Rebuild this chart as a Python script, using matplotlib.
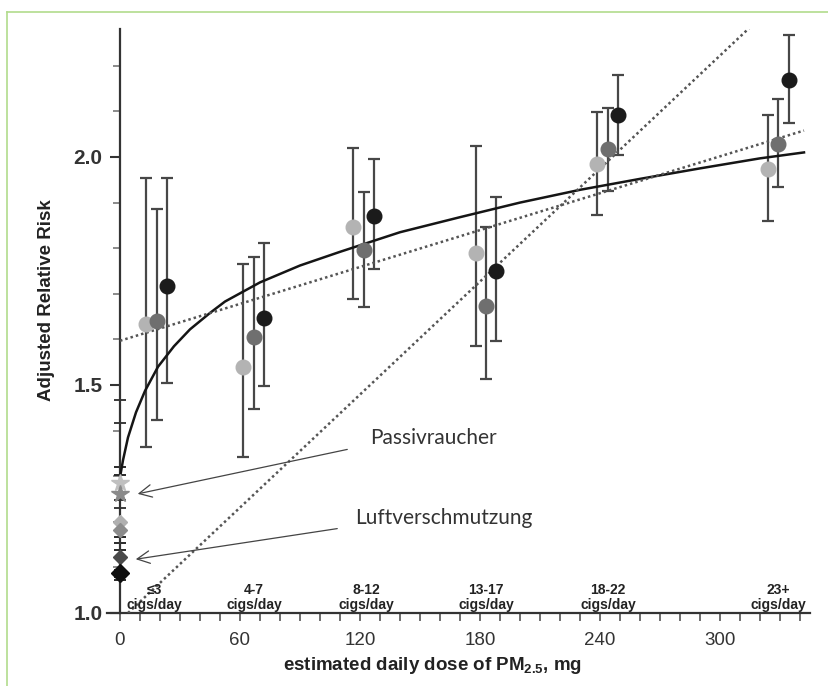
import matplotlib
matplotlib.use('Agg')
import matplotlib.pyplot as plt
from matplotlib.lines import Line2D
import numpy as np

plt.rcParams['font.family'] = ['Liberation Sans', 'DejaVu Sans']
plt.rcParams['mathtext.fontset'] = 'custom'
plt.rcParams['mathtext.rm'] = 'Liberation Sans'
plt.rcParams['mathtext.bf'] = 'Liberation Sans:bold'

# ---------------- data ----------------
categories = ['≤3\ncigs/day', '4-7\ncigs/day', '8-12\ncigs/day',
              '13-17\ncigs/day', '18-22\ncigs/day', '23+\ncigs/day']
cat_x = [17, 67, 123, 183, 244, 329]

light_x = [12.9, 61.7, 116.7, 177.8, 238.7, 323.8]
light_y = [1.634, 1.539, 1.847, 1.790, 1.984, 1.973]
light_lo = [1.363, 1.341, 1.688, 1.586, 1.872, 1.860]
light_hi = [1.953, 1.765, 2.019, 2.024, 2.098, 2.092]

mid_x = [18.3, 67.0, 122.0, 182.8, 243.8, 329.2]
mid_y = [1.641, 1.606, 1.795, 1.673, 2.017, 2.028]
mid_lo = [1.423, 1.447, 1.670, 1.514, 1.926, 1.934]
mid_hi = [1.887, 1.781, 1.924, 1.846, 2.108, 2.127]

dark_x = [23.7, 72.2, 127.0, 188.0, 249.0, 334.3]
dark_y = [1.716, 1.648, 1.871, 1.749, 2.091, 2.169]
dark_lo = [1.505, 1.498, 1.754, 1.597, 2.004, 2.075]
dark_hi = [1.953, 1.812, 1.996, 1.913, 2.179, 2.267]

# passive smoking (stars) and air pollution (diamonds) near zero dose
passive_x = [0, 0]
passive_y = [1.284, 1.262]
passive_lo = [1.248, 1.230]
passive_hi = [1.467, 1.417]

air_x = [0, 0, 0, 0]
air_y = [1.200, 1.183, 1.123, 1.087]
air_lo = [1.153, 1.138, 1.072, 1.080]
air_hi = [1.320, 1.303, 1.167, 1.095]

# fitted curves
curve_x = [0.3, 1.5, 4, 8, 12.5, 19, 27, 35, 45, 52.5, 70, 90, 110, 140,
           170, 200, 230, 260, 290, 320, 342]
curve_y = [1.305, 1.335, 1.385, 1.44, 1.487, 1.54, 1.585, 1.622, 1.658, 1.683,
           1.725, 1.762, 1.792, 1.835, 1.868, 1.90, 1.928, 1.952, 1.975, 1.997, 2.010]

lin_x = [0, 342]
lin_y = [1.597, 2.058]

steep_x = [4, 320]
steep_y = [1.0, 2.305]

# ---------------- figure ----------------
fig = plt.figure(figsize=(8.29, 6.86), dpi=100)
ax = fig.add_axes([107 / 829, 73 / 686, 703 / 829, (613 - 29.3) / 686])
ax.set_xlim(-6.5, 345)
ax.set_ylim(1.0, 2.28)

axis_col = '#333333'
for s in ['top', 'right']:
    ax.spines[s].set_visible(False)
ax.spines['left'].set_position(('data', 0))
ax.spines['left'].set_color(axis_col)
ax.spines['bottom'].set_color(axis_col)
ax.spines['left'].set_linewidth(1.6)
ax.spines['bottom'].set_linewidth(1.6)

ax.set_yticks([1.0, 1.5, 2.0])
ax.set_yticklabels(['1.0', '1.5', '2.0'], fontsize=15, fontweight='bold', color='#333333')
ax.set_yticks([1.1, 1.2, 1.3, 1.4, 1.6, 1.7, 1.8, 1.9, 2.1, 2.2], minor=True)
ax.tick_params(axis='y', which='major', direction='out', length=7, width=1.5,
               color=axis_col, pad=5.5)
ax.tick_params(axis='y', which='minor', direction='out', length=5, width=1.2,
               color='#777777')

ax.set_xticks([0, 60, 120, 180, 240, 300])
ax.set_xticklabels(['0', '60', '120', '180', '240', '300'], fontsize=13.5, color='#333333')
ax.set_xticks(list(range(10, 345, 10)), minor=True)
ax.tick_params(axis='x', which='both', direction='out', length=6, width=1.2,
               color='#555555', pad=8)

err_col = '#474747'
c_light, c_mid, c_dark = '#b3b3b3', '#6f6f6f', '#1b1b1b'

for xs, ys, lo, hi, col in [(light_x, light_y, light_lo, light_hi, c_light),
                            (mid_x, mid_y, mid_lo, mid_hi, c_mid),
                            (dark_x, dark_y, dark_lo, dark_hi, c_dark)]:
    ys_a = np.array(ys)
    yerr = [ys_a - np.array(lo), np.array(hi) - ys_a]
    ax.errorbar(xs, ys, yerr=yerr, fmt='none', ecolor=err_col, elinewidth=1.6,
                capsize=4.5, capthick=1.6, zorder=2)
    ax.plot(xs, ys, 'o', ms=10.5, color=col, mec=col, zorder=5)

# near zero points
py = np.array(passive_y)
ax.errorbar(passive_x, passive_y, yerr=[py - np.array(passive_lo), np.array(passive_hi) - py],
            fmt='none', ecolor='#3a3a3a', elinewidth=1.4, capsize=4.5, capthick=1.4, zorder=2)
ay = np.array(air_y)
ax.errorbar(air_x, air_y, yerr=[ay - np.array(air_lo), np.array(air_hi) - ay],
            fmt='none', ecolor='#2a2a2a', elinewidth=1.4, capsize=4.5, capthick=1.4, zorder=2)
ax.plot(passive_x[0], passive_y[0], '*', ms=13, color='#c0c0c0', zorder=5, clip_on=False)
ax.plot(passive_x[1], passive_y[1], '*', ms=13, color='#8a8a8a', zorder=5, clip_on=False)
air_cols = ['#b0b0b0', '#8c8c8c', '#4a4a4a', '#0f0f0f']
air_ms = [7, 7, 7, 9.5]
for xv, yv, cc, mm in zip(air_x, air_y, air_cols, air_ms):
    ax.plot(xv, yv, 'D', ms=mm, color=cc, zorder=5, clip_on=False)

# curves
ax.plot(curve_x, curve_y, color='#151515', lw=1.8, zorder=3)
ax.plot(lin_x, lin_y, color='#555555', lw=1.8, ls=(0, (1, 1.2)), zorder=3)
ax.plot(steep_x, steep_y, color='#555555', lw=1.8, ls=(0, (1, 1.2)), zorder=3)

# category labels
for cx, lab in zip(cat_x, categories):
    ax.text(cx, 1.003, lab, ha='center', va='bottom', fontsize=10,
            fontweight='bold', color='#222222', linespacing=1.1)

# annotations
arrow_kw = dict(arrowstyle='->,head_length=0.9,head_width=0.45', color='#444444', lw=0.9)
ax.annotate('', xy=(7.5, 1.260), xytext=(115, 1.36), arrowprops=arrow_kw)
ax.annotate('', xy=(6.5, 1.117), xytext=(110, 1.186), arrowprops=arrow_kw)
ax.text(125, 1.384, 'Passivraucher', fontsize=15, family=['Lato', 'DejaVu Sans'],
        ha='left', va='center', color='#333333')
ax.text(117.5, 1.208, 'Luftverschmutzung', fontsize=15, family=['Lato', 'DejaVu Sans'],
        ha='left', va='center', color='#333333')

# axis labels
fig.text(0.522, 1 - 665 / 686, r'estimated daily dose of PM$_{\mathbf{2.5}}$, mg',
         ha='center', va='center', fontsize=13.5, fontweight='bold', color='#222222')
fig.text(47 / 829, 1 - 300 / 686, 'Adjusted Relative Risk', rotation=90,
         ha='center', va='center', fontsize=13.5, fontweight='bold', color='#222222')

# green frame (left and top edges)
gcol = '#b2db8c'
fig.add_artist(Line2D([7 / 829, 7 / 829], [0, 1 - 12 / 686], transform=fig.transFigure,
                      color=gcol, lw=1.2))
fig.add_artist(Line2D([7 / 829, 1], [1 - 12 / 686, 1 - 12 / 686], transform=fig.transFigure,
                      color=gcol, lw=1.2))

fig.savefig('out.png', dpi=100)
